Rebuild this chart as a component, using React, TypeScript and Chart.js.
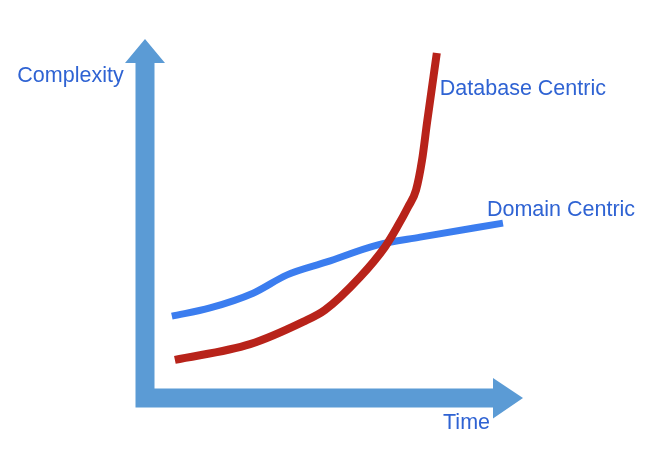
import React, { useEffect, useRef } from "react";
import { Chart, registerables } from "chart.js";

Chart.register(...registerables);

// Time (0..100) vs Complexity (0..100)
const domainTime = [7.1, 17.2, 28.6, 37.6, 48.1, 61.4, 72.8, 94.7];
const domainComplexity = [22.8, 25.1, 29.2, 34.3, 37.9, 42.6, 44.8, 48.7];

const dbTime = [7.9, 27.8, 41.8, 47.6, 56.9, 63.5, 66.7, 69.6, 71.7, 73.3, 74.6, 77.2];
const dbComplexity = [10.6, 15.0, 21.2, 24.5, 33.7, 42.1, 47.6, 53.2, 57.9, 66.3, 76.6, 96.1];

const seriesNames = ["Database Centric", "Domain Centric"];
const axisTitles = { x: "Time", y: "Complexity" };

const ARROW = "#5b9bd5";
const TEXT = "#2f63d3";
const FONT = '21.5px "Liberation Sans", Arial, sans-serif';

const diagramPlugin = {
  id: "diagram",
  beforeDatasetsDraw(chart: any) {
    const { ctx, chartArea } = chart;
    const { left, right, top, bottom } = chartArea;
    const hw = 9.5;
    ctx.save();
    ctx.fillStyle = ARROW;
    ctx.beginPath();
    ctx.moveTo(left - hw, bottom + hw);
    ctx.lineTo(left - hw, top + 24);
    ctx.lineTo(left - 20, top + 24);
    ctx.lineTo(left, top);
    ctx.lineTo(left + 20, top + 24);
    ctx.lineTo(left + hw, top + 24);
    ctx.lineTo(left + hw, bottom - hw);
    ctx.lineTo(right - 30, bottom - hw);
    ctx.lineTo(right - 30, bottom - 20);
    ctx.lineTo(right, bottom);
    ctx.lineTo(right - 30, bottom + 20.5);
    ctx.lineTo(right - 30, bottom + hw);
    ctx.closePath();
    ctx.fill();
    ctx.restore();
  },
  afterDatasetsDraw(chart: any) {
    const { ctx, chartArea } = chart;
    const { left, right, top, bottom } = chartArea;
    ctx.save();
    ctx.fillStyle = TEXT;
    ctx.font = FONT;
    ctx.textBaseline = "middle";
    ctx.textAlign = "center";
    ctx.fillText(axisTitles.y, left - 74.5, top + 37);
    ctx.textAlign = "right";
    ctx.fillText(axisTitles.x, right - 33, bottom + 25);
    chart.data.datasets.forEach((ds: any, i: number) => {
      const meta = chart.getDatasetMeta(i);
      const last = meta.data[meta.data.length - 1];
      ctx.textAlign = "left";
      if (i === 0) ctx.fillText(ds.label, last.x + 3, last.y + 36);
      else ctx.fillText(ds.label, last.x - 16, last.y - 13);
    });
    ctx.restore();
  },
};

export default function App() {
  const ref = useRef<HTMLCanvasElement>(null);
  useEffect(() => {
    const chart = new Chart(ref.current!, {
      type: "line",
      data: {
        datasets: [
          {
            label: seriesNames[0],
            data: dbTime.map((t, i) => ({ x: t, y: dbComplexity[i] })),
            borderColor: "#b8231a",
            borderWidth: 8,
            borderCapStyle: "butt",
            pointRadius: 0,
            cubicInterpolationMode: "monotone",
            fill: false,
          },
          {
            label: seriesNames[1],
            data: domainTime.map((t, i) => ({ x: t, y: domainComplexity[i] })),
            borderColor: "#3b7def",
            borderWidth: 7,
            borderCapStyle: "butt",
            pointRadius: 0,
            cubicInterpolationMode: "monotone",
            fill: false,
          },
        ],
      },
      options: {
        animation: false,
        responsive: false,
        maintainAspectRatio: false,
        layout: { padding: { left: 145, right: 143, top: 39, bottom: 56 } },
        plugins: { legend: { display: false }, tooltip: { enabled: false } },
        scales: {
          x: { type: "linear", min: 0, max: 100, display: false },
          y: { type: "linear", min: 0, max: 100, display: false },
        },
      },
      plugins: [diagramPlugin],
    } as any);
    return () => chart.destroy();
  }, []);
  return (
    <div style={{ position: "fixed", left: 0, top: 0, width: 666, height: 454, background: "#fff" }}>
      <canvas ref={ref} width={666} height={454} style={{ width: 666, height: 454, display: "block" }} />
    </div>
  );
}
